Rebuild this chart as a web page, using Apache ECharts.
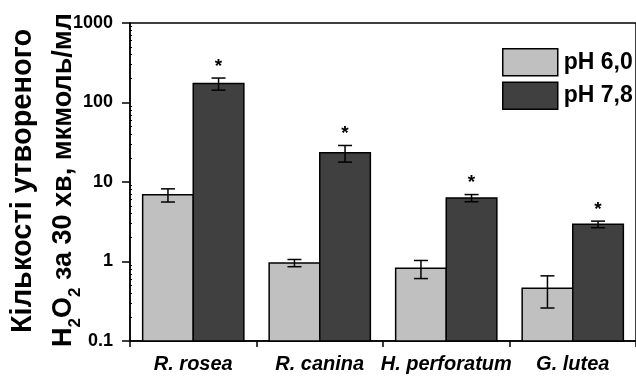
<!DOCTYPE html>
<html>
<head>
<meta charset="utf-8">
<script src="https://cdn.jsdelivr.net/npm/echarts@6/dist/echarts.min.js"></script>
<style>
  html, body { margin: 0; padding: 0; background: #fff; }
  #chart { width: 636px; height: 376px; }
</style>
</head>
<body>
<div id="chart"></div>
<script>
const categories = ['R. rosea', 'R. canina', 'H. perforatum', 'G. lutea']
const ph60 = [6.9, 0.96, 0.82, 0.46]
const ph60Err = [1.3, 0.1, 0.21, 0.2]
const ph78 = [173, 23.3, 6.3, 2.94]
const ph78Err = [30, 5.5, 0.65, 0.28]
const ph78Mark = ['*', '*', '*', '*']
const yTicks = [0.1, 1, 10, 100, 1000]

const FONT = '"Liberation Sans", Arial, sans-serif'
const LIGHT = '#c0c0c0'
const DARK = '#404040'
const chart = echarts.init(document.getElementById('chart'))

// bars on a log axis start from the axis minimum, so draw them as custom rects
const barSeries = (name, vals, side, color) => ({
  name: name,
  type: 'custom',
  itemStyle: { color: color, borderColor: '#000', borderWidth: 1.5 },
  data: vals.map((v, i) => [i, v]),
  encode: { x: 0, y: 1 },
  renderItem: (params, api) => {
    const i = api.value(0)
    const bw = api.size([1, 0])[0] * 0.4
    const top = api.coord([i, api.value(1)])
    const base = api.coord([i, 0.1])
    const x = side < 0 ? top[0] - bw : top[0]
    return {
      type: 'rect',
      shape: { x: x, y: top[1], width: bw, height: base[1] - top[1] },
      style: { fill: color, stroke: '#000', lineWidth: 1.5 }
    }
  }
})

// error bars (+ significance star)
const errorSeries = (vals, errs, side, marks) => ({
  type: 'custom',
  silent: true,
  z: 10,
  data: vals.map((v, i) => [i, v, errs[i]]),
  encode: { x: 0, y: 1 },
  renderItem: (params, api) => {
    const i = api.value(0)
    const v = api.value(1)
    const e = api.value(2)
    const bw = api.size([1, 0])[0] * 0.4
    const c = api.coord([i, v])
    const x = c[0] + side * bw / 2
    const yTop = api.coord([i, v + e])[1]
    const yBot = api.coord([i, Math.max(v - e, 0.1001)])[1]
    const cap = 7
    const st = { stroke: '#000', lineWidth: 1.5 }
    const children = [
      { type: 'line', shape: { x1: x, y1: yTop, x2: x, y2: yBot }, style: st },
      { type: 'line', shape: { x1: x - cap, y1: yTop, x2: x + cap, y2: yTop }, style: st },
      { type: 'line', shape: { x1: x - cap, y1: yBot, x2: x + cap, y2: yBot }, style: st }
    ]
    if (marks) {
      children.push({
        type: 'text',
        style: {
          text: marks[i], x: x, y: yTop - 2, align: 'center', verticalAlign: 'bottom',
          font: 'bold 19px ' + FONT, fill: '#000'
        }
      })
    }
    return { type: 'group', children }
  }
})

const options = {
  animation: false,
  grid: { left: 130, top: 23, width: 510, height: 318, show: true, borderColor: '#000', borderWidth: 1.5 },
  legend: {
    orient: 'vertical',
    left: 497,
    top: 43,
    itemWidth: 55,
    itemHeight: 27,
    itemGap: 5,
    icon: 'rect',
    textStyle: { fontFamily: FONT, fontWeight: 'bold', fontSize: 23, color: '#000', padding: [0, 0, 0, 1] },
    data: [
      { name: 'pH 6,0', itemStyle: { color: LIGHT, borderColor: '#000', borderWidth: 1.5 } },
      { name: 'pH 7,8', itemStyle: { color: DARK, borderColor: '#000', borderWidth: 1.5 } }
    ]
  },
  xAxis: {
    type: 'category',
    data: categories,
    axisLine: { lineStyle: { color: '#000', width: 1.5 } },
    axisTick: { show: true, length: 6, lineStyle: { color: '#000', width: 1.5 } },
    axisLabel: {
      interval: 0,
      margin: 13,
      fontFamily: FONT, fontWeight: 'bold', fontStyle: 'italic', fontSize: 20, color: '#000'
    }
  },
  yAxis: [
    {
      type: 'log',
      logBase: 10,
      min: 0.1,
      max: 1000,
      axisLine: { show: true, lineStyle: { color: '#000', width: 1.5 } },
      axisTick: { show: true, length: 8, lineStyle: { color: '#000', width: 1.5 } },
      splitLine: { show: false },
      axisLabel: {
        margin: 17,
        fontFamily: FONT, fontWeight: 'bold', fontSize: 18, color: '#000',
        formatter: (v) => {
          const t = yTicks.find((k) => Math.abs(k - v) / k < 1e-6)
          return t === undefined ? '' : String(t)
        }
      }
    },
    {
      // second copy only for the small inside minor ticks
      type: 'log',
      logBase: 10,
      min: 0.1,
      max: 1000,
      position: 'left',
      axisLine: { show: false },
      axisTick: { show: false, inside: true },
      axisLabel: { show: false },
      splitLine: { show: false },
      minorTick: { show: true, splitNumber: 9, length: 2, lineStyle: { color: '#000', width: 1 } }
    }
  ],
  graphic: [
    {
      type: 'text',
      x: 23, y: 181, rotation: Math.PI / 2,
      style: {
        text: 'Кількості утвореного', align: 'center', verticalAlign: 'middle',
        font: 'bold 29px ' + FONT, fill: '#000'
      }
    },
    {
      type: 'text',
      x: 64, y: 180, rotation: Math.PI / 2,
      style: {
        text: '{n|H}{s|2}{n|O}{s|2}{n| за 30 хв, мкмоль/мл}',
        align: 'center', verticalAlign: 'middle',
        rich: {
          n: { fontFamily: FONT, fontWeight: 'bold', fontSize: 27, lineHeight: 40, fill: '#000', verticalAlign: 'middle' },
          s: { fontFamily: FONT, fontWeight: 'bold', fontSize: 17, lineHeight: 40, fill: '#000', verticalAlign: 'bottom' }
        }
      }
    }
  ],
  series: [
    barSeries('pH 6,0', ph60, -1, LIGHT),
    barSeries('pH 7,8', ph78, 1, DARK),
    errorSeries(ph60, ph60Err, -1, null),
    errorSeries(ph78, ph78Err, 1, ph78Mark)
  ]
}
chart.setOption(options, true)
</script>
</body>
</html>
